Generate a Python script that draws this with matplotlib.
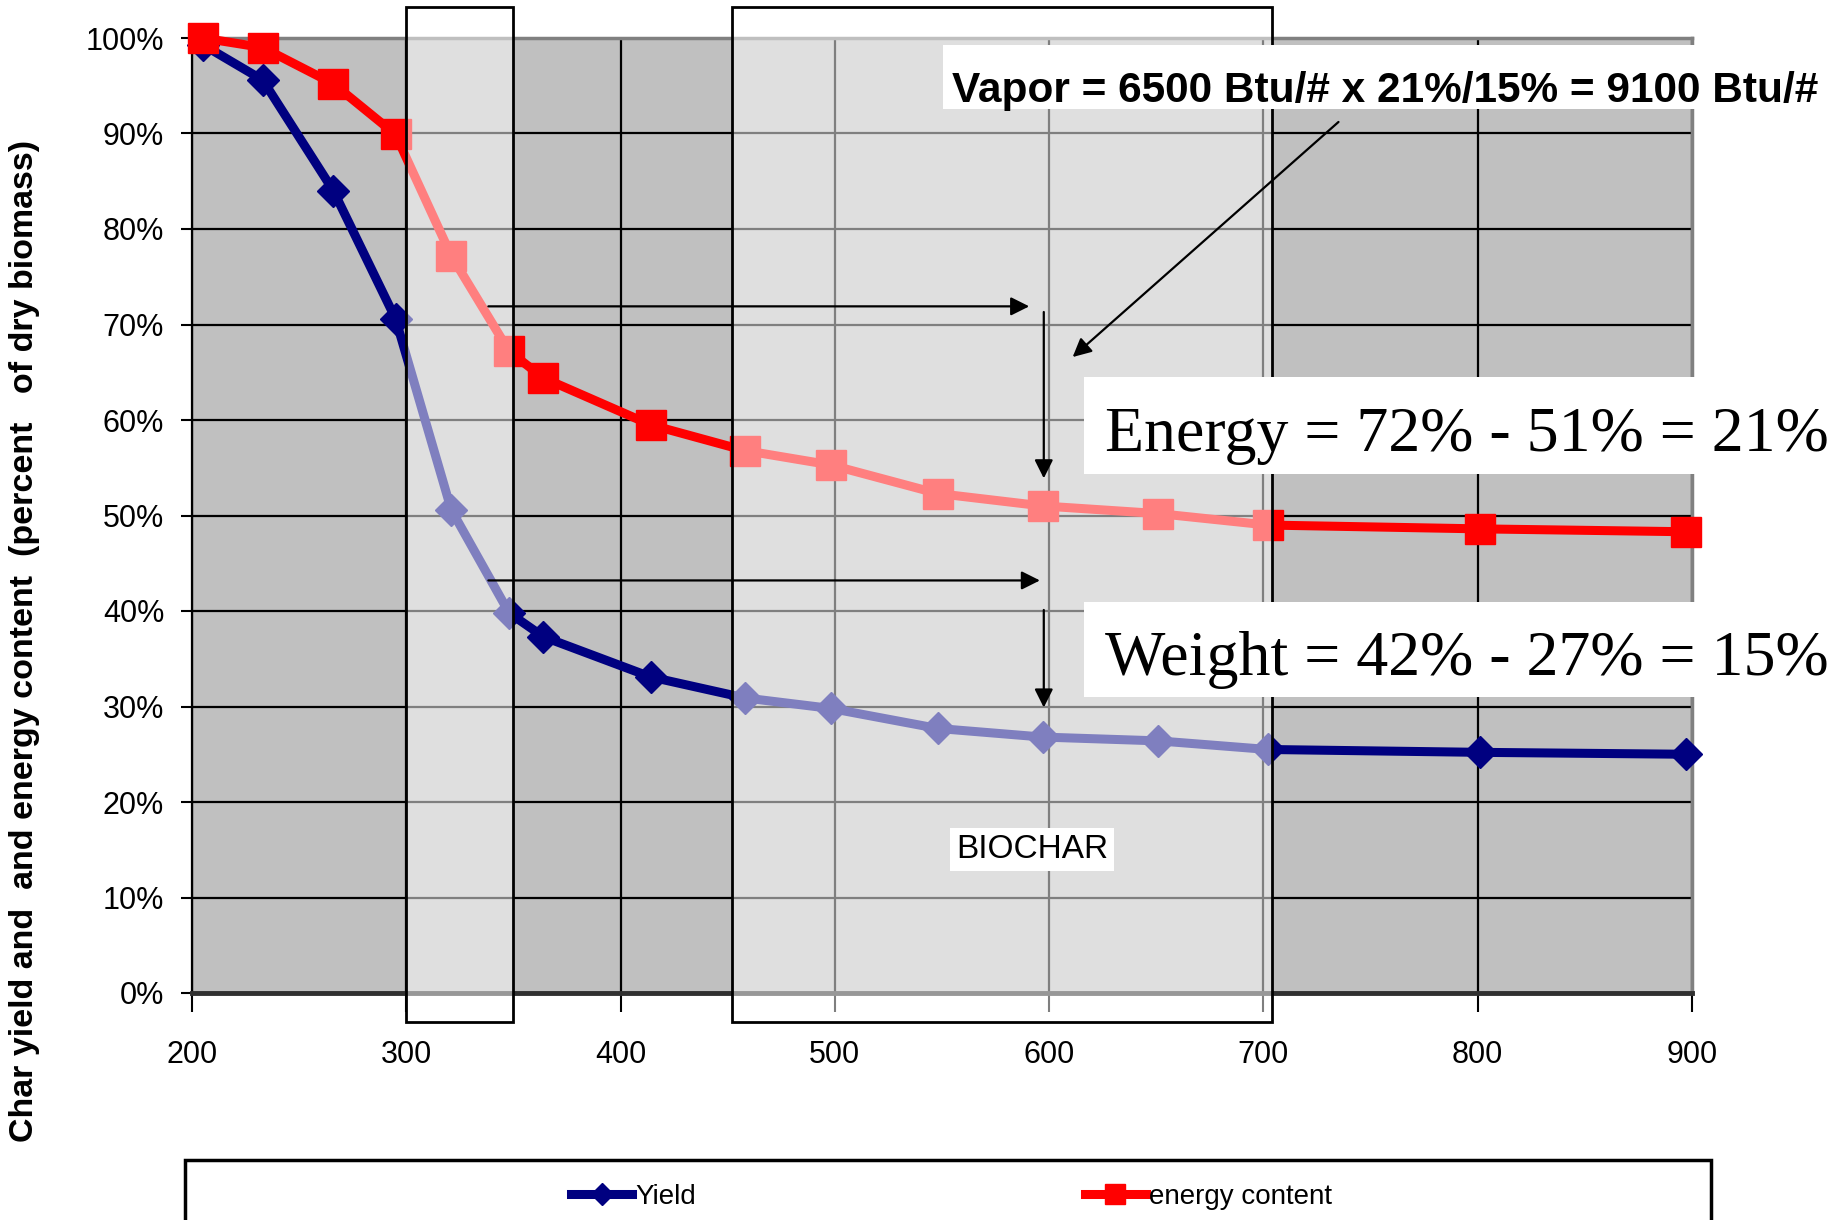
import matplotlib
matplotlib.use("Agg")
import matplotlib.pyplot as plt
from matplotlib.patches import Rectangle

# temperatures (x) and percent of dry biomass (y)
temps = [205, 233, 266, 295, 321, 348, 364, 414, 458, 498, 548, 597, 651, 702, 801, 897]
yield_pct = [99.3, 95.6, 84.0, 70.6, 50.6, 39.8, 37.3, 33.1, 30.9, 29.8, 27.7, 26.8, 26.4, 25.5, 25.2, 25.0]
energy_pct = [100.0, 99.0, 95.2, 89.9, 77.2, 67.2, 64.4, 59.5, 56.8, 55.3, 52.3, 51.0, 50.2, 49.0, 48.6, 48.3]

x_ticks = [200, 300, 400, 500, 600, 700, 800, 900]
y_ticks = [0, 10, 20, 30, 40, 50, 60, 70, 80, 90, 100]
y_ticklabels = ["0%", "10%", "20%", "30%", "40%", "50%", "60%", "70%", "80%", "90%", "100%"]

# highlighted temperature windows
windows = [(300, 350), (452, 704)]

SANS = ["Liberation Sans", "DejaVu Sans"]
SERIF = ["Liberation Serif", "DejaVu Serif"]

fig = plt.figure(figsize=(18.44, 12.2), dpi=100, facecolor="white")
ax = fig.add_axes([192 / 1844, 227 / 1220, 1500 / 1844, 955 / 1220])
ax.set_facecolor("#C0C0C0")

ax.plot(temps, yield_pct, color="#000080", lw=6.5, marker="D", ms=16,
        label="Yield", zorder=3, clip_on=False)
ax.plot(temps, energy_pct, color="#FF0000", lw=6.5, marker="s", ms=21,
        label="energy content", zorder=3, clip_on=False)

ax.set_xlim(200, 900)
ax.set_ylim(0, 100)
ax.set_xticks(x_ticks)
ax.set_xticklabels([str(t) for t in x_ticks], family=SANS, fontsize=22)
ax.set_yticks(y_ticks)
ax.set_yticklabels(y_ticklabels, family=SANS, fontsize=22)
ax.tick_params(axis="x", direction="out", length=14, width=1.5, pad=20)
ax.tick_params(axis="y", direction="out", length=8, width=1.5, pad=12)

ax.set_axisbelow(True)
ax.grid(True, color="black", lw=1.6)
ax.spines["left"].set_color("black")
ax.spines["left"].set_linewidth(1.6)
ax.spines["bottom"].set_color("#303030")
ax.spines["bottom"].set_linewidth(3.5)
for side in ("top", "right"):
    ax.spines[side].set_color("#808080")
    ax.spines[side].set_linewidth(2.5)

# translucent windows drawn over the curves
for x0, x1 in windows:
    ax.add_patch(Rectangle((x0, -3.0), x1 - x0, 106.2, facecolor=(1, 1, 1, 0.5),
                           edgecolor="black", lw=2, zorder=4, clip_on=False))

arrow = dict(arrowstyle="-|>", color="black", lw=1.6, mutation_scale=28)
ax.annotate("", xy=(592, 71.9), xytext=(337, 71.9), arrowprops=arrow, zorder=6)
ax.annotate("", xy=(597.5, 53.6), xytext=(597.5, 71.6), arrowprops=arrow, zorder=6)
ax.annotate("", xy=(597, 43.2), xytext=(337, 43.2), arrowprops=arrow, zorder=6)
ax.annotate("", xy=(597.5, 29.6), xytext=(597.5, 40.4), arrowprops=arrow, zorder=6)
ax.annotate("", xy=(610, 66.4), xytext=(736, 91.4), arrowprops=arrow, zorder=6)

# white label boxes (x0, y0, x1, y1 in data units)
for bx0, by0, bx1, by1 in [(550.5, 92.6, 975, 99.3), (616.3, 54.35, 975, 64.5),
                           (616.3, 31.0, 975, 40.9)]:
    ax.add_patch(Rectangle((bx0, by0), bx1 - bx0, by1 - by0, facecolor="white",
                           edgecolor="none", zorder=6.5, clip_on=False))

ax.text(554.7, 93.3, "Vapor = 6500 Btu/# x 21%/15% = 9100 Btu/#", family=SANS,
        fontsize=30.5, fontweight="bold", va="baseline", ha="left", zorder=7)
ax.text(626, 56.75, "Energy = 72% - 51% = 21%", family=SERIF, fontsize=46,
        va="baseline", ha="left", zorder=7)
ax.text(626, 33.3, "Weight = 42% - 27% = 15%", family=SERIF, fontsize=46,
        va="baseline", ha="left", zorder=7)
ax.text(592, 15.0, "BIOCHAR", family=SANS, fontsize=24,
        va="center", ha="center", zorder=7,
        bbox=dict(boxstyle="square,pad=0.18", fc="white", ec="none"))

fig.text(25 / 1844, 0.4746, "Char yield and  and energy content  (percent   of dry biomass)",
         family=SANS, fontsize=24.5, fontweight="bold",
         rotation=90, va="center", ha="center")

# legend box runs off the bottom edge of the figure
fig.add_artist(Rectangle((185 / 1844, -0.1), 1526 / 1844, 0.149, transform=fig.transFigure,
                         fill=False, edgecolor="black", lw=2.5))
fig.legend(loc="center", bbox_to_anchor=(0.516, 0.019), ncol=2, frameon=False,
           prop={"family": SANS, "size": 20}, markerscale=0.7, handlelength=2.2,
           handletextpad=0.1, columnspacing=14)

fig.savefig("out.png", dpi=100, facecolor="white")
